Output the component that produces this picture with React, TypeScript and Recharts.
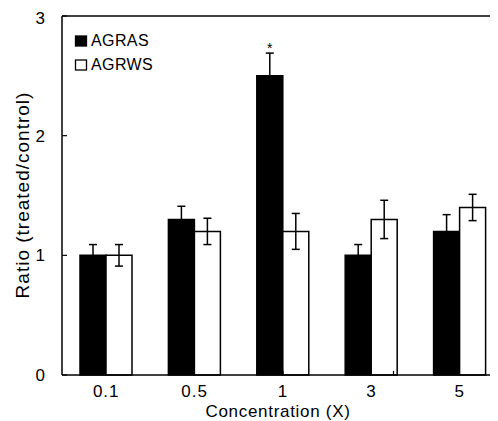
import React from 'react';
import { BarChart, Bar, XAxis, YAxis, ErrorBar, ReferenceLine, LabelList, Label } from 'recharts';

const categories = ['0.1', '0.5', '1', '3', '5'];
const agrasValues = [1.0, 1.3, 2.5, 1.0, 1.2];
const agrasErrors = [0.09, 0.11, 0.19, 0.09, 0.14];
const agrwsValues = [1.0, 1.2, 1.2, 1.3, 1.4];
const agrwsErrors = [0.09, 0.11, 0.15, 0.16, 0.11];
const significance = ['', '', '*', '', ''];
const yTicks = [0, 1, 2, 3];
const bandBoundaries = [1, 2, 3, 4];
const seriesNames = ['AGRAS', 'AGRWS'];
const seriesFills = ['#000000', '#ffffff'];
const xTitle = 'Concentration (X)';
const yTitle = 'Ratio (treated/control)';

const data = categories.map((c, i) => ({
  conc: c,
  agras: agrasValues[i],
  agrasErr: agrasErrors[i],
  agrws: agrwsValues[i],
  agrwsErr: agrwsErrors[i],
  sig: significance[i],
}));

const FONT = '"Liberation Sans", Arial, Helvetica, sans-serif';
const BOUNDARY_TICK = 0.035;

const renderXTitle = () => (
  <text x={270} y={403} textAnchor="middle" dominantBaseline="central" fontSize={17} letterSpacing={0.7} fontFamily={FONT} fill="#000">
    {xTitle}
  </text>
);

const renderYTitle = () => (
  <text x={14.5} y={187} transform="rotate(-90 14.5 187)" textAnchor="middle" dominantBaseline="central" fontSize={19} letterSpacing={1} fontFamily={FONT} fill="#000">
    {yTitle}
  </text>
);

const renderSig = (props: any) => {
  const { x, y, width, value } = props;
  if (!value) return null;
  return (
    <text x={Number(x) + Number(width) / 2} y={Number(y) - 23} textAnchor="middle" fontSize={14} fontFamily={FONT} fill="#000">
      {value}
    </text>
  );
};

export default function App() {
  return (
    <div style={{ position: 'relative', width: 490, height: 413, overflow: 'hidden', fontFamily: FONT }}>
      <BarChart width={500} height={413} data={data} margin={{ top: 8, right: 4, bottom: 0, left: 0 }} barGap={0} barSize={26}>
        <XAxis xAxisId="bounds" type="number" domain={[0, 5]} hide />
        <XAxis
          dataKey="conc"
          height={46}
          tickSize={0}
          tickMargin={10}
          axisLine={{ stroke: '#000', strokeWidth: 1.5 }}
          tickLine={false}
          tick={{ fill: '#000', fontSize: 17, fontFamily: FONT, letterSpacing: 1 }}
          label={<Label content={renderXTitle} />}
        />
        <YAxis
          width={54}
          domain={[0, 3]}
          ticks={yTicks}
          tickSize={-5}
          tickMargin={22}
          axisLine={{ stroke: '#000', strokeWidth: 1.5 }}
          tickLine={{ stroke: '#000', strokeWidth: 1.2 }}
          tick={{ fill: '#000', fontSize: 17, fontFamily: FONT }}
          label={<Label content={renderYTitle} />}
        />
        <ReferenceLine y={3} stroke="#000" strokeWidth={1.5} />
        {bandBoundaries.map((b) => (
          <ReferenceLine
            key={b}
            xAxisId="bounds"
            segment={[{ x: b, y: 0 }, { x: b, y: BOUNDARY_TICK }]}
            stroke="#000"
            strokeWidth={1.2}
          />
        ))}
        <Bar dataKey="agras" name={seriesNames[0]} fill={seriesFills[0]} stroke="#000" strokeWidth={1.5} isAnimationActive={false}>
          <ErrorBar dataKey="agrasErr" width={4} stroke="#000" strokeWidth={1.5} />
          <LabelList dataKey="sig" content={renderSig} />
        </Bar>
        <Bar dataKey="agrws" name={seriesNames[1]} fill={seriesFills[1]} stroke="#000" strokeWidth={1.5} isAnimationActive={false}>
          <ErrorBar dataKey="agrwsErr" width={4} stroke="#000" strokeWidth={1.5} />
        </Bar>
      </BarChart>
      <svg width={160} height={80} style={{ position: 'absolute', left: 0, top: 0 }}>
        {seriesNames.map((name, i) => (
          <g key={name}>
            <rect x={67.5} y={28 + i * 24} width={11} height={10} fill={seriesFills[i]} stroke="#000" strokeWidth={1.3} />
            <text x={83} y={38 + i * 24} fontSize={16} letterSpacing={0.4} fontFamily={FONT} fill="#000">
              {name}
            </text>
          </g>
        ))}
      </svg>
    </div>
  );
}
